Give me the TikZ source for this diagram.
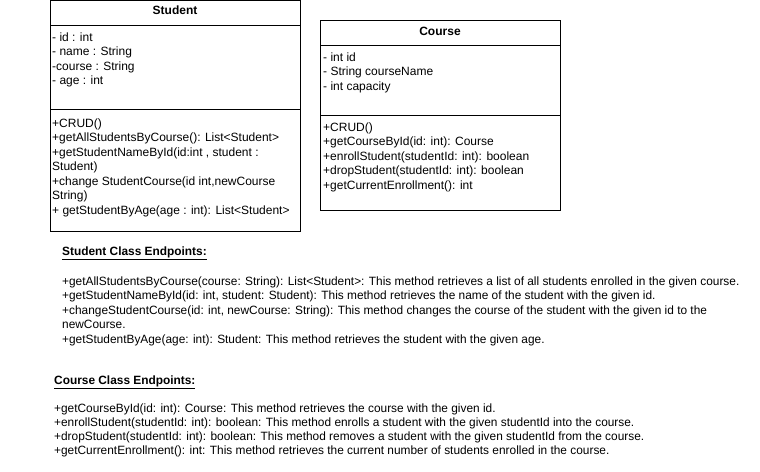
\documentclass[tikz,border=0pt]{standalone}
\usepackage{fontspec}
\setmainfont{Liberation Sans}
\newfontfamily\notefont[FakeStretch=0.99]{Liberation Sans}
\tikzset{
  umltext/.style={anchor=base west, inner sep=0pt, font=\fontsize{12}{14}\selectfont},
  umlhead/.style={anchor=base, inner sep=0pt, font=\fontsize{12}{14}\selectfont\bfseries},
  notetext/.style={anchor=base west, inner sep=0pt, font=\notefont\fontsize{12}{14}\selectfont}
}
\begin{document}
\begin{tikzpicture}[x=1pt,y=-1pt]
\useasboundingbox (0,0) rectangle (760,471);
% Student class
\draw (50,0.5) rectangle (300,231);
\draw (50,25) -- (300,25);
\draw (50,109) -- (300,109);
\node[umlhead] (stuname) at (175,14) {Student};
\foreach \t [count=\i] in {- id : int, - name : String, -course : String, - age : int}
  \node[umltext] (stuattr\i) at (52,{26.4+14.6*\i}) {\t};
\foreach \t [count=\i] in {+CRUD(), +getAllStudentsByCourse(): List<Student>,
    {+getStudentNameById(id:int , student :}, Student),
    {+change StudentCourse(id int,newCourse}, String),
    + getStudentByAge(age : int): List<Student>}
  \node[umltext] (stuop\i) at (52,{112.5+14.55*\i}) {\t};
% Course class
\draw (320,20) rectangle (560,210);
\draw (320,45) -- (560,45);
\draw (320,115) -- (560,115);
\node[umlhead] (crsname) at (440,35) {Course};
\foreach \t [count=\i] in {- int id, - String courseName, - int capacity}
  \node[umltext] (crsattr\i) at (323,{46.6+14.5*\i}) {\t};
\foreach \t [count=\i] in {+CRUD(), {+getCourseById(id: int): Course},
    {+enrollStudent(studentId: int): boolean}, {+dropStudent(studentId: int): boolean},
    {+getCurrentEnrollment(): int}}
  \node[umltext] (crsop\i) at (323,{116.4+14.6*\i}) {\t};
% Student endpoints
\node[notetext,font=\notefont\fontsize{12}{14}\selectfont\bfseries] (stutitle) at (62,255) {\underline{Student Class Endpoints:}};
\foreach \t [count=\i] in {
    {+getAllStudentsByCourse(course: String): List<Student>: This method retrieves a list of all students enrolled in the given course.},
    {+getStudentNameById(id: int, student: Student): This method retrieves the name of the student with the given id.},
    {+changeStudentCourse(id: int, newCourse: String): This method changes the course of the student with the given id to the},
    {newCourse.},
    {+getStudentByAge(age: int): Student: This method retrieves the student with the given age.}}
  \node[notetext] (stuline\i) at (62,{270.5+14.5*\i}) {\t};
% Course endpoints
\node[notetext,font=\notefont\fontsize{12}{14}\selectfont\bfseries] (crstitle) at (54,384) {\underline{Course Class Endpoints:}};
\foreach \t [count=\i] in {
    {+getCourseById(id: int): Course: This method retrieves the course with the given id.},
    {+enrollStudent(studentId: int): boolean: This method enrolls a student with the given studentId into the course.},
    {+dropStudent(studentId: int): boolean: This method removes a student with the given studentId from the course.},
    {+getCurrentEnrollment(): int: This method retrieves the current number of students enrolled in the course.}}
  \node[notetext] (crsline\i) at (54,{397.7+14.3*\i}) {\t};
\end{tikzpicture}
\end{document}
